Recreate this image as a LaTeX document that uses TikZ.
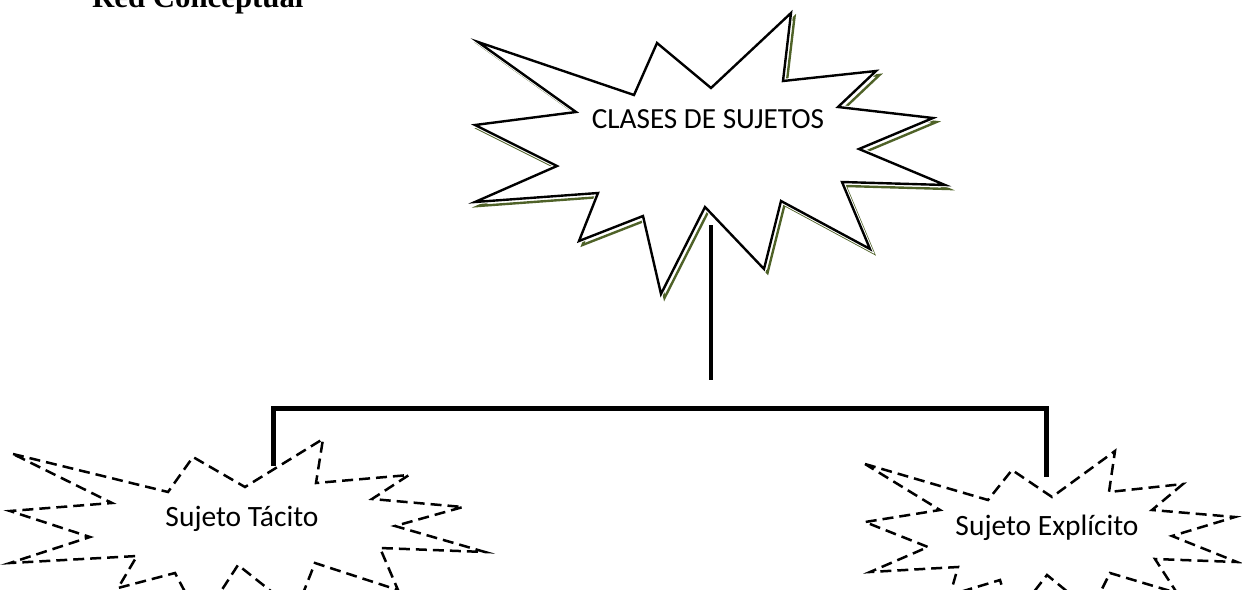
\documentclass[tikz,border=0pt]{standalone}
\usepackage{fontspec}
\setmainfont{Carlito}
\newfontfamily\titlefont{Liberation Serif}
\definecolor{shadowgreen}{HTML}{4F6228}
\begin{document}
\begin{tikzpicture}[x=1pt,y=-1pt,
  starshadow/.style={draw=shadowgreen,line width=2.4pt,line join=miter},
  starmain/.style={draw=black,fill=white,line width=2.4pt,line join=miter,
     preaction={draw=white,line width=4.4pt}},
  dashstar/.style={draw=black,line width=2.5pt,dash pattern=on 11pt off 6pt,line join=miter},
  bar/.style={line width=5pt,line join=miter},
  stem/.style={line width=3.8pt},
  lbl/.style={anchor=base,inner sep=0pt,font=\fontsize{29.5}{33}\selectfont}]
\useasboundingbox (0,0) rectangle (1242,589);
\clip (0,0) rectangle (1242,589);
% title
\node[anchor=base west,inner sep=0pt,font=\titlefont\bfseries\fontsize{30.8}{34}\selectfont] (title) at (92,7) {Red Conceptual};
% top star
\begin{scope}[shift={(3.5,4)}]
\draw[starshadow] (478,42) -- (634,95) -- (657,43) -- (711,88) -- (791,13) -- (783,81) -- (876,71) -- (838,107) -- (933,118) -- (859,149) -- (945,185) -- (842,182) -- (870,249) -- (781,201) -- (764,269) -- (705,207) -- (661,294) -- (643,216) -- (579,241) -- (598,193) -- (475,202) -- (557,166) -- (475,125) -- (576,112) -- cycle;
\end{scope}
\draw[starmain] (478,42) -- (634,95) -- (657,43) -- (711,88) -- (791,13) -- (783,81) -- (876,71) -- (838,107) -- (933,118) -- (859,149) -- (945,185) -- (842,182) -- (870,249) -- (781,201) -- (764,269) -- (705,207) -- (661,294) -- (643,216) -- (579,241) -- (598,193) -- (475,202) -- (557,166) -- (475,125) -- (576,112) -- cycle;
\node[lbl,font=\fontsize{29.2}{33}\selectfont] (clases) at (708,128) {CLASES DE SUJETOS};
% left star
\draw[dashstar] (13,454) -- (168,492) -- (193,457) -- (245,487) -- (323,439) -- (316,483) -- (409,475) -- (372,499) -- (463,507) -- (395,526) -- (485,552) -- (380,548) -- (398,590) -- (315,563) -- (296,611) -- (238,565) -- (201,622) -- (175,573) -- (118,588) -- (137,556) -- (10,563) -- (90,537) -- (10,511) -- (112,503) -- cycle;
\node[lbl] (tacito) at (242,526) {Sujeto Tácito};
% right star
\draw[dashstar] (865,464) -- (988,500) -- (1012,470) -- (1052,497) -- (1115,451) -- (1109,492) -- (1183,484) -- (1152,510) -- (1235,517) -- (1172,536) -- (1237,562) -- (1155,559) -- (1177,593) -- (1110,573) -- (1091,611) -- (1047,575) -- (1012,620) -- (1000,580) -- (950,595) -- (958,567) -- (870,572) -- (928,547) -- (865,522) -- (940,510) -- cycle;
\node[lbl] (explicito) at (1047,535) {Sujeto Explícito};
% connectors
\coordinate (stemtop) at (711,225);
\coordinate (stembot) at (711,380);
\coordinate (lt) at (273.5,466);
\coordinate (barl) at (273.5,408);
\coordinate (barr) at (1046,408);
\coordinate (rt) at (1046,477);
\draw[stem] (stemtop) -- (stembot);
\draw[bar] (lt) -- (barl) -- (barr) -- (rt);
\end{tikzpicture}
\end{document}
